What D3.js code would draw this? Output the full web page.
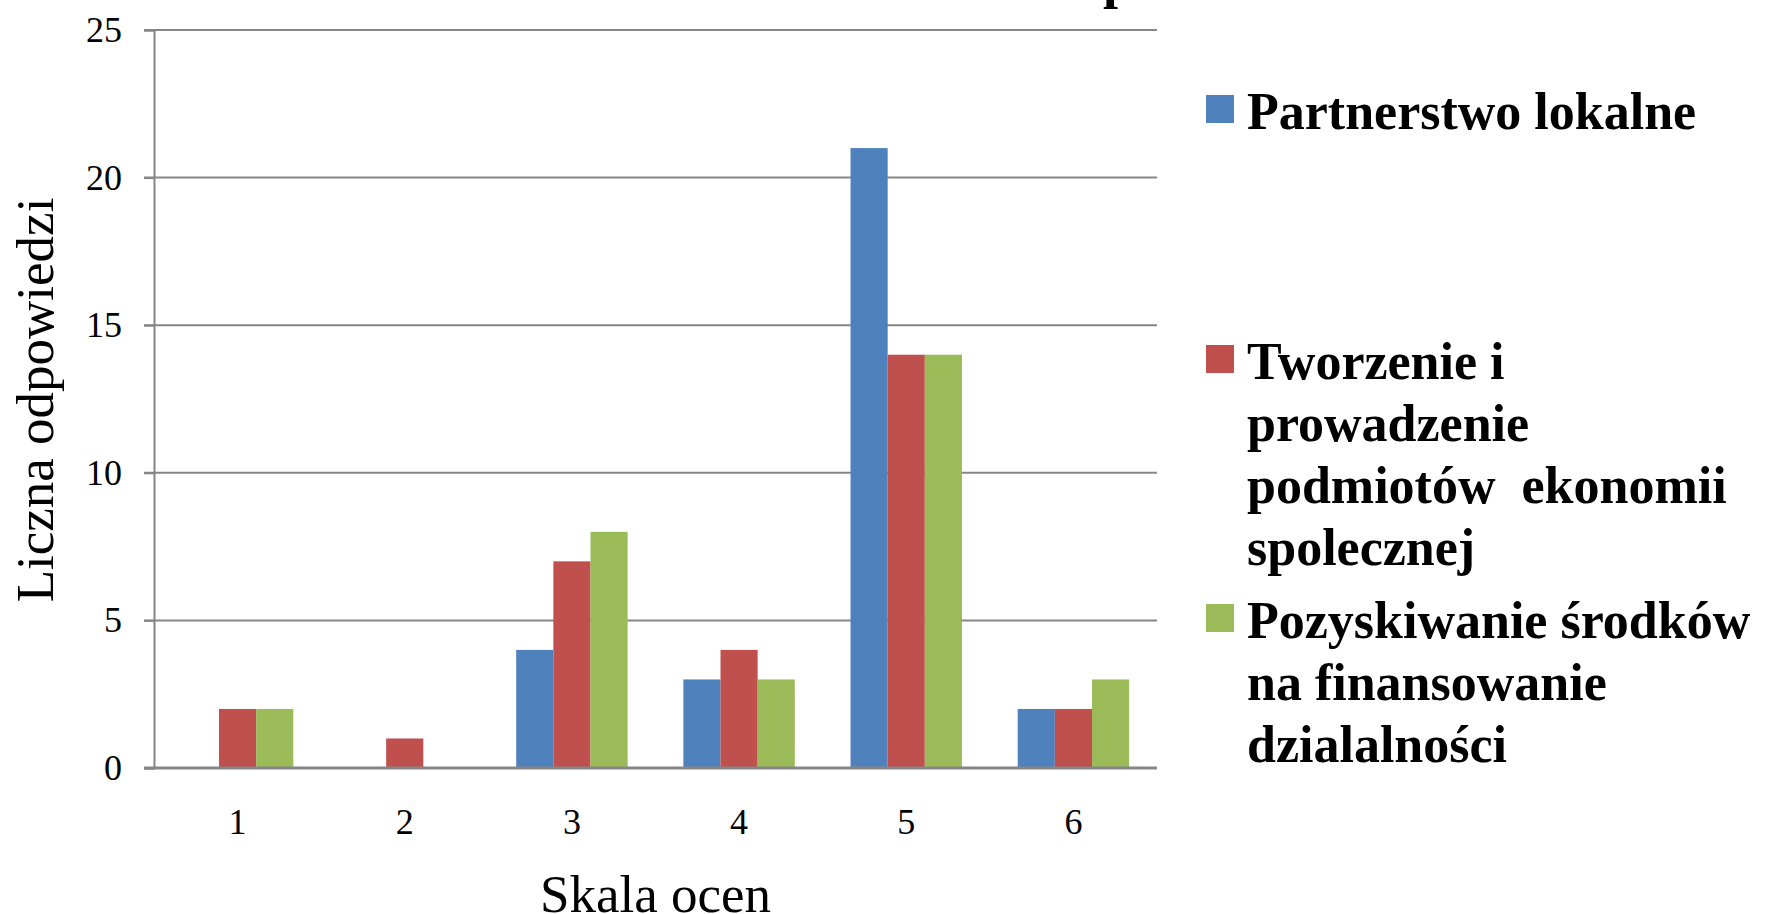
<!DOCTYPE html>
<html>
<head>
<meta charset="utf-8">
<script src="https://cdn.jsdelivr.net/npm/d3@7"></script>
<style>
  html, body { margin: 0; padding: 0; background: #fff; overflow: hidden; }
  text { font-family: "Liberation Serif", "Times New Roman", serif; }
</style>
</head>
<body>
<svg id="chart"></svg>
<script>
// data
const categories = ['1', '2', '3', '4', '5', '6'];
const seriesNames = ['Partnerstwo lokalne', 'Tworzenie i prowadzenie podmiotów ekonomii spolecznej', 'Pozyskiwanie środków na finansowanie dzialalności'];
const partnerstwo = [0, 0, 4, 3, 21, 2];
const tworzenie = [2, 1, 7, 4, 14, 2];
const pozyskiwanie = [2, 0, 8, 3, 14, 3];
const yTicks = [0, 5, 10, 15, 20, 25];
const legendLines = [
  ['Partnerstwo lokalne'],
  ['Tworzenie i', 'prowadzenie', 'podmiotów  ekonomii', 'spolecznej'],
  ['Pozyskiwanie środków', 'na finansowanie', 'dzialalności']
];
const colors = ['#4F81BD', '#C0504D', '#9BBB59'];

const width = 1765;
const height = 914;
const plot = { left: 154, right: 1157, top: 30, bottom: 768 };

const svg = d3.select('#chart')
  .attr('width', width)
  .attr('height', height);

const seriesValues = [partnerstwo, tworzenie, pozyskiwanie];

const x0 = d3.scaleBand()
  .domain(categories)
  .range([plot.left, plot.right])
  .paddingInner(0.6 / 1.8)
  .paddingOuter(0.3 / 1.8);

const x1 = d3.scaleBand()
  .domain(d3.range(seriesNames.length))
  .range([0, x0.bandwidth()]);

const y = d3.scaleLinear()
  .domain([0, 25])
  .range([plot.bottom, plot.top]);

// gridlines
svg.append('g')
  .selectAll('line')
  .data(yTicks.filter(d => d > 0))
  .enter()
  .append('line')
  .attr('x1', plot.left - 10)
  .attr('x2', plot.right)
  .attr('y1', d => y(d))
  .attr('y2', d => y(d))
  .attr('stroke', '#868686')
  .attr('stroke-width', 2);

// y axis
const yAxis = svg.append('g')
  .attr('transform', 'translate(' + plot.left + ',0)')
  .call(d3.axisLeft(y).tickValues(yTicks).tickSize(10).tickPadding(22));
yAxis.select('.domain').attr('stroke', '#868686').attr('stroke-width', 2);
yAxis.selectAll('.tick line').attr('stroke', '#868686').attr('stroke-width', 2);
yAxis.selectAll('.tick text')
  .style('font-family', '"Liberation Serif", "Times New Roman", serif')
  .style('font-size', '36px')
  .attr('fill', '#000');

// bars
const groups = svg.append('g')
  .selectAll('g')
  .data(categories)
  .enter()
  .append('g')
  .attr('transform', d => 'translate(' + x0(d) + ',0)');

groups.selectAll('rect')
  .data((d, i) => seriesValues.map((vals, s) => ({ s: s, v: vals[i] })))
  .enter()
  .append('rect')
  .attr('x', d => x1(d.s))
  .attr('width', x1.bandwidth())
  .attr('y', d => y(d.v))
  .attr('height', d => y(0) - y(d.v))
  .attr('fill', d => colors[d.s]);

// x axis
const xAxis = svg.append('g')
  .attr('transform', 'translate(0,' + plot.bottom + ')')
  .call(d3.axisBottom(x0).tickSize(0).tickPadding(40));
xAxis.select('.domain').remove();
xAxis.selectAll('.tick text')
  .style('font-family', '"Liberation Serif", "Times New Roman", serif')
  .style('font-size', '36px')
  .attr('fill', '#000');
svg.append('line')
  .attr('x1', plot.left - 10)
  .attr('x2', plot.right)
  .attr('y1', y(0))
  .attr('y2', y(0))
  .attr('stroke', '#868686')
  .attr('stroke-width', 3);

// axis titles
svg.append('text')
  .attr('x', (plot.left + plot.right) / 2)
  .attr('y', 912)
  .attr('text-anchor', 'middle')
  .style('font-size', '53px')
  .text('Skala ocen');

svg.append('text')
  .attr('transform', 'translate(53,' + 400 + ') rotate(-90)')
  .attr('text-anchor', 'middle')
  .style('font-size', '53px')
  .text('Liczna odpowiedzi');

// title, cut off by the top edge
svg.append('text')
  .attr('x', 1103)
  .attr('y', -3)
  .style('font-size', '54px')
  .style('font-weight', 'bold')
  .text('p');

// legend
const legendTop = [129, 379, 638];
const lineGap = 62;
const legend = svg.append('g');

legendLines.forEach(function(lines, i) {
  const item = legend.append('g');
  item.append('rect')
    .attr('x', 1206)
    .attr('y', legendTop[i] - 34)
    .attr('width', 28)
    .attr('height', 28)
    .attr('fill', colors[i]);
  item.append('text')
    .attr('x', 1247)
    .attr('y', legendTop[i])
    .style('font-size', '52px')
    .style('font-weight', 'bold')
    .style('white-space', 'pre')
    .selectAll('tspan')
    .data(lines)
    .enter()
    .append('tspan')
    .attr('x', 1247)
    .attr('dy', (d, j) => j === 0 ? 0 : lineGap)
    .text(d => d);
});
</script>
</body>
</html>
